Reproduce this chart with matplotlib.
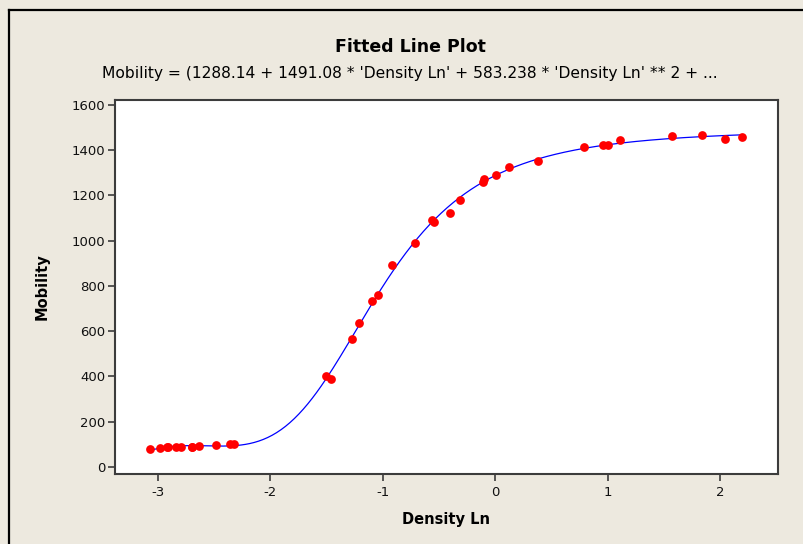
import numpy as np
from matplotlib import pyplot as plt
from matplotlib.lines import Line2D

plt.rcParams['axes.unicode_minus'] = False

# Observed points
density_ln = [-3.067, -2.981, -2.921, -2.912, -2.840, -2.797, -2.702, -2.699,
              -2.633, -2.481, -2.363, -2.322, -1.501, -1.460, -1.274, -1.212,
              -1.100, -1.046, -0.915, -0.714, -0.566, -0.545, -0.400, -0.309,
              -0.109, -0.103, 0.010, 0.119, 0.377, 0.790, 0.963, 1.006,
              1.115, 1.572, 1.841, 2.047, 2.200]
mobility = [80.574, 84.248, 87.264, 87.195, 89.076, 89.608, 89.868, 90.101,
            92.405, 95.854, 100.696, 101.060, 401.672, 390.724, 567.534, 635.316,
            733.054, 759.087, 894.206, 990.785, 1090.109, 1080.914, 1122.643, 1178.351,
            1260.531, 1273.514, 1288.339, 1327.543, 1353.863, 1414.509, 1425.208, 1421.384,
            1442.962, 1464.350, 1468.705, 1447.894, 1457.628]

# Rational fit coefficients (numerator b1..b4, denominator b5..b7)
num_coef = [1288.14, 1491.08, 583.238, 75.4166]
den_coef = [0.966295, 0.397973, 0.0497273]

x_ticks = [-3, -2, -1, 0, 1, 2]
y_ticks = [0, 200, 400, 600, 800, 1000, 1200, 1400, 1600]

BG = '#EDE9DF'
AXIS = '#3c3c3c'

fig = plt.figure(figsize=(8.04, 5.44), dpi=100, facecolor=BG)
ax = fig.add_axes([0.1430, 0.1287, 0.8246, 0.6875])
ax.set_facecolor('white')

xf = np.linspace(min(density_ln), max(density_ln), 400)
num = sum(c * xf ** i for i, c in enumerate(num_coef))
den = 1 + sum(c * xf ** (i + 1) for i, c in enumerate(den_coef))
ax.plot(xf, num / den, color='#0000ff', linewidth=0.9, zorder=2)
ax.plot(density_ln, mobility, 'o', color='#ff0000', markersize=6.3,
        markeredgewidth=0, zorder=3)

ax.set_xlim(-3.383, 2.516)
ax.set_ylim(-31, 1622)
ax.set_xticks(x_ticks)
ax.set_yticks(y_ticks)
ax.tick_params(direction='out', length=5, width=1.2, color=AXIS,
               labelsize=9.5, labelcolor='#111111', pad=2)
ax.tick_params(axis='x', pad=4)
for s in ax.spines.values():
    s.set_color(AXIS)
    s.set_linewidth(1.5)

ax.set_xlabel('Density Ln', fontsize=10.5, fontweight='bold', labelpad=9)
ax.set_ylabel('Mobility', fontsize=10.5, fontweight='bold', labelpad=16)

fig.text(0.51, 0.913, 'Fitted Line Plot', ha='center', va='center',
         fontsize=12.5, fontweight='bold')
fig.text(0.51, 0.864,
         "Mobility = (1288.14 + 1491.08 * 'Density Ln' + 583.238 * 'Density Ln' ** 2 + ...",
         ha='center', va='center', fontsize=11.2)

# window frame on the left and top edges
fig.add_artist(Line2D([8.5 / 804, 8.5 / 804], [0, 1 - 9.5 / 544],
                      transform=fig.transFigure, color='black', linewidth=1.6))
fig.add_artist(Line2D([8.5 / 804, 1.01], [1 - 9.5 / 544, 1 - 9.5 / 544],
                      transform=fig.transFigure, color='black', linewidth=1.6))

fig.savefig('out.png', dpi=100, facecolor=BG)
